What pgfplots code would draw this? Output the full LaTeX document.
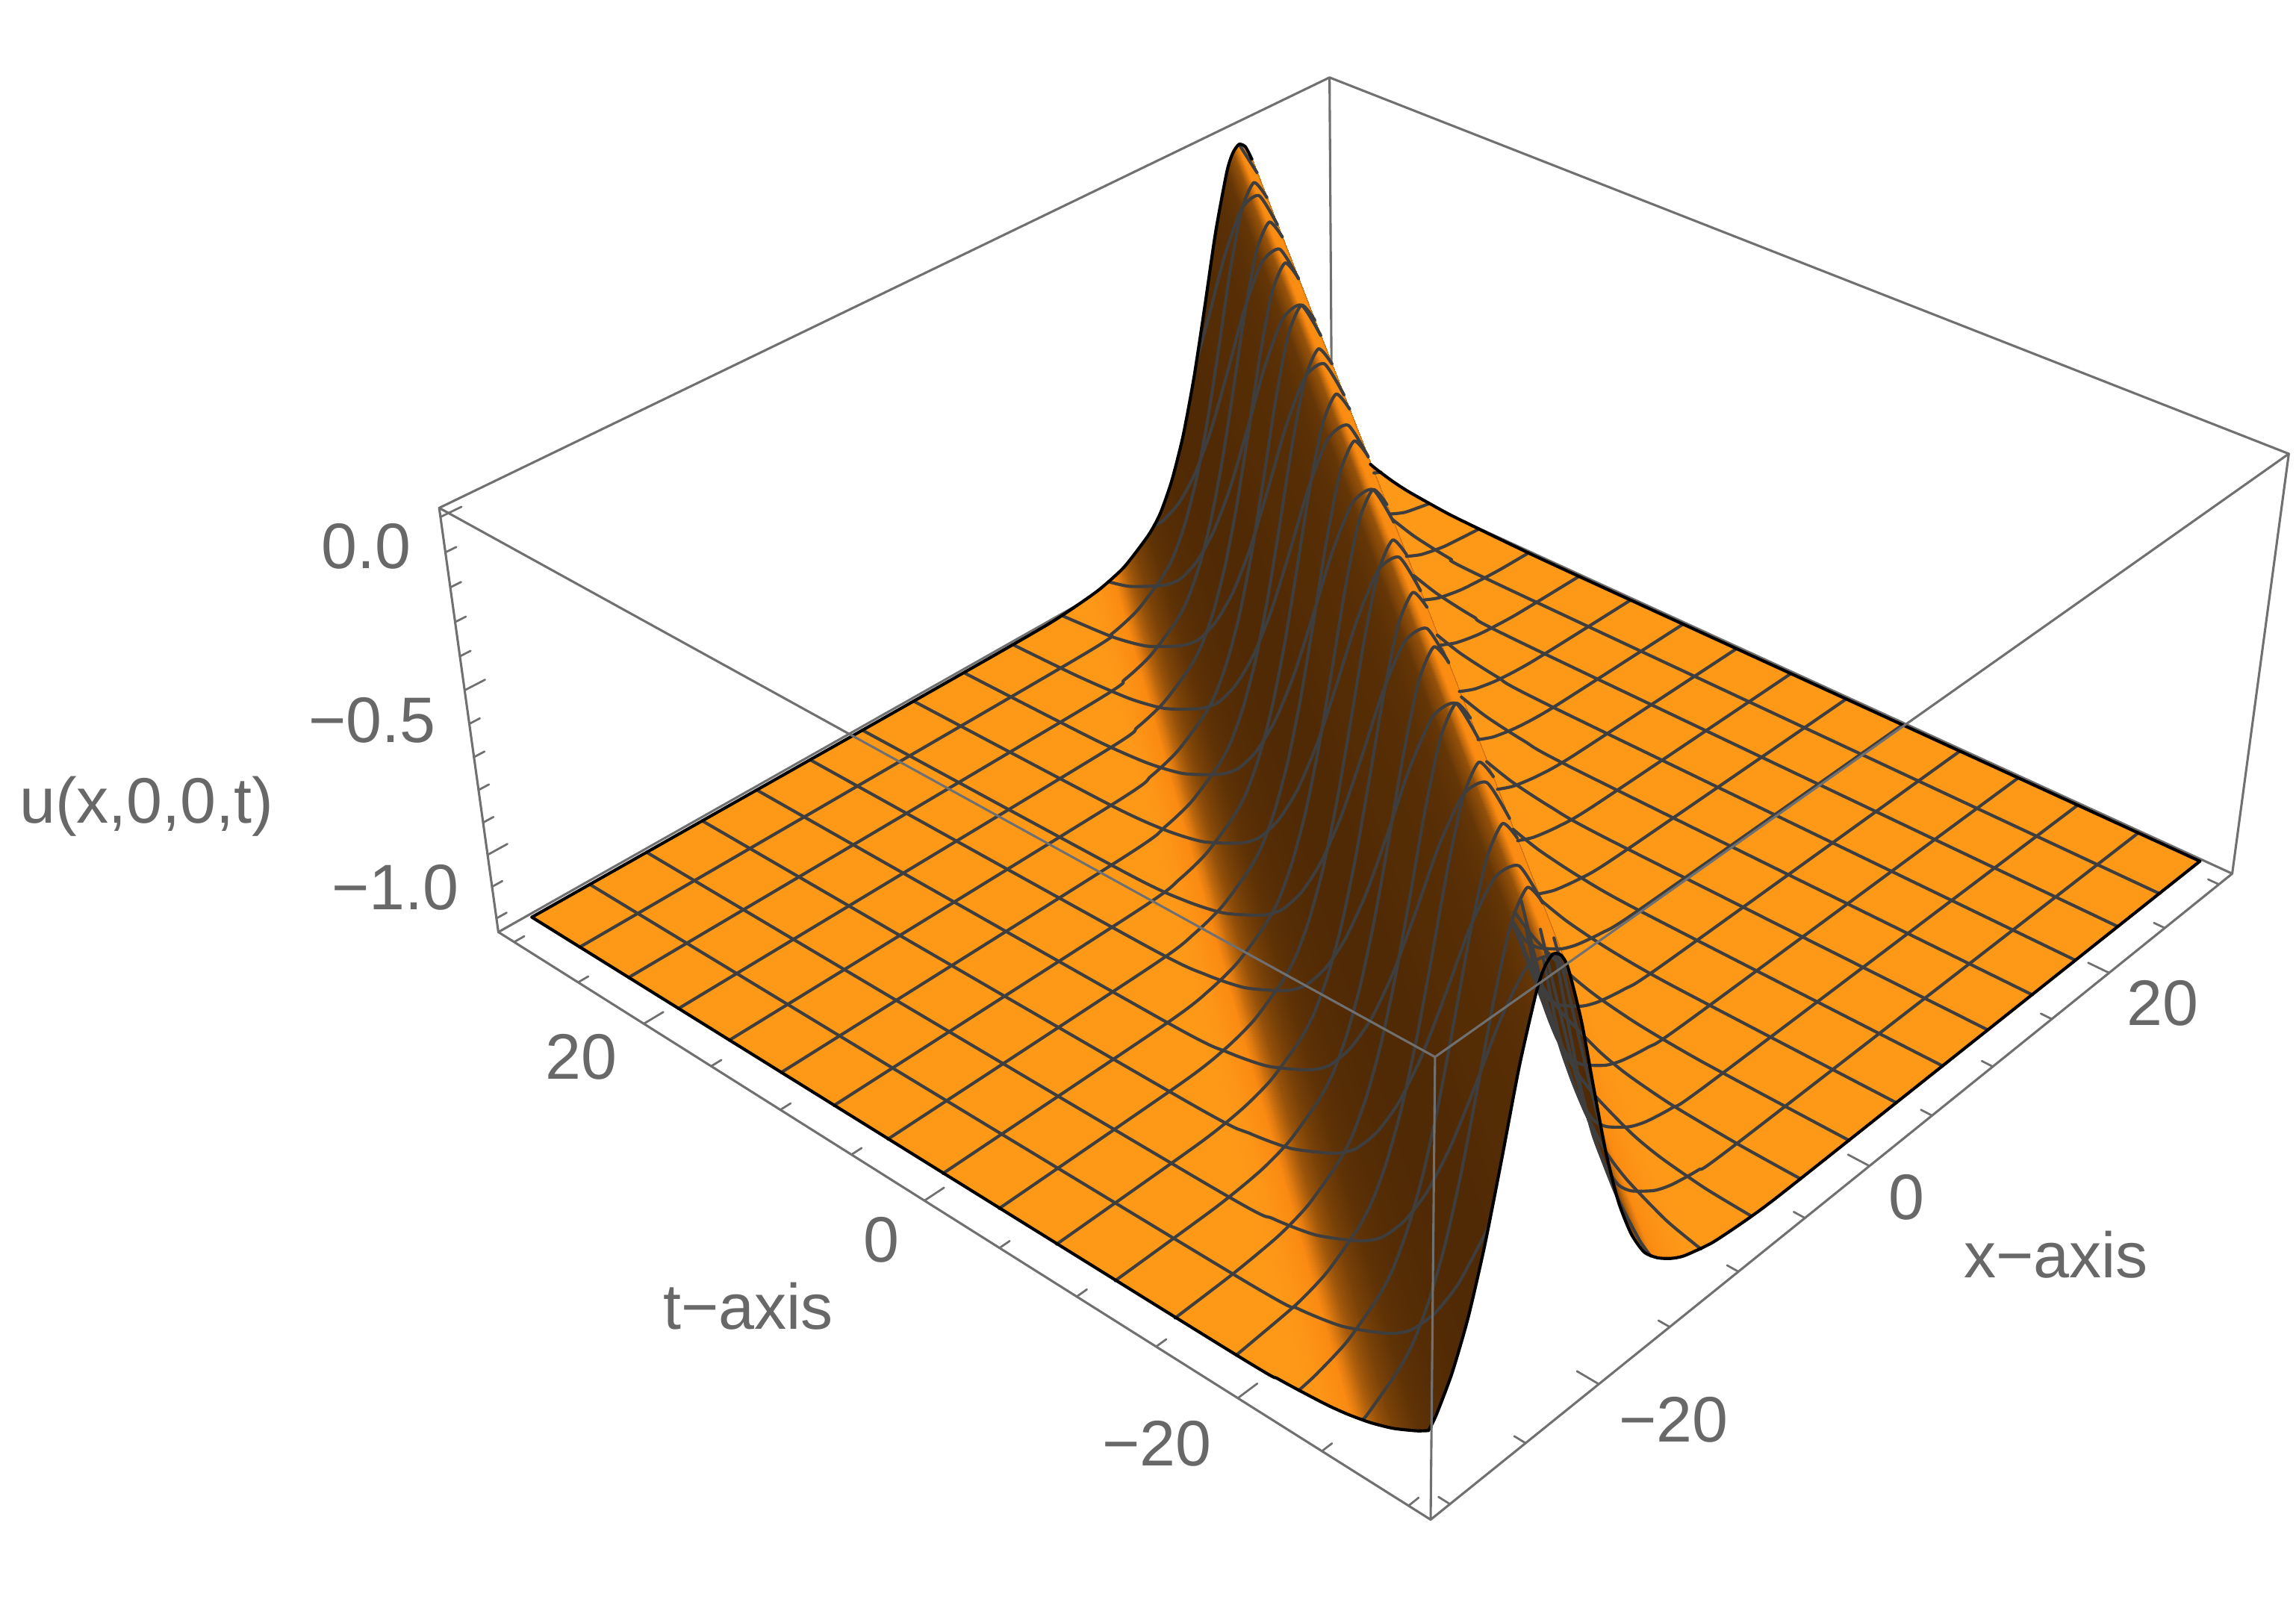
\documentclass[border=0pt]{standalone}
\usepackage{fontspec}
\setmainfont{Liberation Sans}
\usepackage{pgfplots}
\pgfplotsset{compat=1.18}
\newcommand\XX{(0.5+\thisrow{x}/62.5)}
\newcommand\YY{(0.5+\thisrow{t}/62.5)}
\newcommand\ZZ{((\thisrow{u}+1.2437)/1.269)}
\newcommand\WW{(1+0.2097*\XX+0.1879*\YY-0.075*\ZZ)}
\newcommand\SX{((977+867.1*\XX-572.7*\YY-70.5*\ZZ)/\WW)}
\newcommand\SY{(1100-(1038-316.1*\XX-281.7*\YY-370.15*\ZZ)/\WW)}
\definecolor{boxc}{RGB}{112,112,112}
\definecolor{meshc}{RGB}{62,62,62}
\definecolor{txtc}{RGB}{104,104,104}
\begin{document}
\begin{tikzpicture}
\begin{axis}[
  width=15.68cm,height=11cm,scale only axis,
  xmin=0,xmax=1568,ymin=0,ymax=1100,zmin=-1,zmax=1,
  view={0}{90},hide axis,clip=false,
  unbounded coords=jump,
  colormap={sur}{rgb255=(80,42,5) rgb255=(150,82,10) rgb255=(250,138,18) rgb255=(254,153,24)},
  point meta min=0,point meta max=1,
  every axis plot/.append style={line cap=round,line join=round},
]
\path (axis cs:0,0,0) rectangle (axis cs:1568,1100,0);
% back edges of the box
\addplot3[boxc,line width=0.45pt,no marks] table[x expr=\SX,y expr=\SY,z expr=0] {
x t u
-31.25 31.25 0.0254
31.25 31.25 0.0254
nan nan nan
31.25 -31.25 0.0254
31.25 31.25 0.0254
31.25 31.25 -1.2437
-31.25 31.25 -1.2437
nan nan nan
31.25 31.25 -1.2437
31.25 -31.25 -1.2437
};
% surface: scanlines run along the ridge, from behind it to in front of it
\addplot3[surf,shader=interp,z buffer=none,mesh/rows=39,mesh/cols=2,point meta=explicit]
 table[x expr=\SX,y expr=\SY,z expr=0,meta=c] {
x t u c
30 -30 -1.2 1
30 -30 -1.2 1

7.5 -30 -1.2 1
30 0 -1.2 1

-8.5 -30 -1.19 1
30 21.33 -1.19 1

-10.5 -30 -1.178 1
30 24 -1.178 1

-11.5 -30 -1.167 1
30 25.33 -1.167 1

-12.5 -30 -1.15 0.97
30 26.67 -1.15 0.97

-13.5 -30 -1.125 0.88
30 28 -1.125 0.88

-14.5 -30 -1.09 0.75
30 29.33 -1.09 0.75

-15 -30 -1.068 0.65
30 30 -1.068 0.65

-15.5 -30 -1.04 0.5
29.5 30 -1.04 0.5

-16.5 -30 -0.953 0.2
28.5 30 -0.953 0.2

-17.5 -30 -0.828 0.05
27.5 30 -0.828 0.05

-18.5 -30 -0.658 0
26.5 30 -0.658 0

-19.5 -30 -0.451 0
25.5 30 -0.451 0

-20.5 -30 -0.235 0
24.5 30 -0.235 0

-21 -30 -0.141 0.1
24 30 -0.141 0.1

-21.5 -30 -0.065 0.5
23.5 30 -0.065 0.5

-22 -30 -0.017 0.75
23 30 -0.017 0.75

-22.5 -30 0 0.72
22.5 30 0 0.72

-23 -30 -0.017 0.33
22 30 -0.017 0.33

-23.5 -30 -0.065 0.1
21.5 30 -0.065 0.1

-24 -30 -0.141 0.05
21 30 -0.141 0.05

-24.5 -30 -0.235 0.03
20.5 30 -0.235 0.03

-25.5 -30 -0.451 0.02
19.5 30 -0.451 0.02

-26.5 -30 -0.658 0
18.5 30 -0.658 0

-27.5 -30 -0.828 0
17.5 30 -0.828 0

-28.5 -30 -0.953 0.01
16.5 30 -0.953 0.01

-29.5 -30 -1.04 0.03
15.5 30 -1.04 0.03

-30 -30 -1.068 0.05
15 30 -1.068 0.05

-30 -29.33 -1.09 0.08
14.5 30 -1.09 0.08

-30 -28 -1.125 0.2
13.5 30 -1.125 0.2

-30 -26.67 -1.15 0.42
12.5 30 -1.15 0.42

-30 -26 -1.16 0.58
12 30 -1.16 0.58

-30 -25.33 -1.167 0.7
11.5 30 -1.167 0.7

-30 -24 -1.178 0.9
10.5 30 -1.178 0.9

-30 -22.67 -1.186 1
9.5 30 -1.186 1

-30 -21.33 -1.19 1
8.5 30 -1.19 1

-30 0 -1.2 1
-7.5 30 -1.2 1

-30 30 -1.2 1
-30 30 -1.2 1
};
% mesh lines at constant t; only what is not hidden by the ridge
\addplot3[meshc,line width=0.6pt,no marks,smooth,tension=0.4] table[x expr=\SX,y expr=\SY,z expr=0] {
x t u
20.69 26.25 -0.065
19.69 26.25 0
18.69 26.25 -0.065
17.69 26.25 -0.235
16.69 26.25 -0.451
15.69 26.25 -0.658
14.69 26.25 -0.828
13.69 26.25 -0.953
12.69 26.25 -1.04
11.69 26.25 -1.09
9.69 26.25 -1.15
7.69 26.25 -1.178
4.69 26.25 -1.193
-30 26.25 -1.2
nan nan nan
29.39 26.25 -1.143
30 26.25 -1.154
nan nan nan
17.88 22.5 -0.065
16.88 22.5 0
15.88 22.5 -0.065
14.88 22.5 -0.235
13.88 22.5 -0.451
12.88 22.5 -0.658
11.88 22.5 -0.828
10.88 22.5 -0.953
9.88 22.5 -1.04
8.88 22.5 -1.09
6.88 22.5 -1.15
4.88 22.5 -1.178
1.88 22.5 -1.193
-30 22.5 -1.2
nan nan nan
26.58 22.5 -1.143
27.88 22.5 -1.167
30 22.5 -1.186
nan nan nan
15.06 18.75 -0.065
14.06 18.75 0
13.06 18.75 -0.065
12.06 18.75 -0.235
11.06 18.75 -0.451
10.06 18.75 -0.658
9.06 18.75 -0.828
8.06 18.75 -0.953
7.06 18.75 -1.04
6.06 18.75 -1.09
4.06 18.75 -1.15
2.06 18.75 -1.178
-0.94 18.75 -1.193
-30 18.75 -1.2
nan nan nan
23.76 18.75 -1.143
25.06 18.75 -1.167
27.06 18.75 -1.186
30 18.75 -1.197
nan nan nan
12.25 15 -0.065
11.25 15 0
10.25 15 -0.065
9.25 15 -0.235
8.25 15 -0.451
7.25 15 -0.658
6.25 15 -0.828
5.25 15 -0.953
4.25 15 -1.04
3.25 15 -1.09
1.25 15 -1.15
-0.75 15 -1.178
-3.75 15 -1.193
-30 15 -1.2
nan nan nan
20.95 15 -1.143
22.25 15 -1.167
24.25 15 -1.186
27.25 15 -1.197
30 15 -1.2
nan nan nan
9.44 11.25 -0.065
8.44 11.25 0
7.44 11.25 -0.065
6.44 11.25 -0.235
5.44 11.25 -0.451
4.44 11.25 -0.658
3.44 11.25 -0.828
2.44 11.25 -0.953
1.44 11.25 -1.04
0.44 11.25 -1.09
-1.56 11.25 -1.15
-3.56 11.25 -1.178
-6.56 11.25 -1.193
-30 11.25 -1.2
nan nan nan
18.14 11.25 -1.143
19.44 11.25 -1.167
21.44 11.25 -1.186
24.44 11.25 -1.197
30 11.25 -1.2
nan nan nan
6.63 7.5 -0.065
5.63 7.5 0
4.63 7.5 -0.065
3.63 7.5 -0.235
2.63 7.5 -0.451
1.63 7.5 -0.658
0.63 7.5 -0.828
-0.37 7.5 -0.953
-1.37 7.5 -1.04
-2.37 7.5 -1.09
-4.37 7.5 -1.15
-6.37 7.5 -1.178
-9.37 7.5 -1.193
-30 7.5 -1.2
nan nan nan
15.33 7.5 -1.143
16.63 7.5 -1.167
18.63 7.5 -1.186
21.63 7.5 -1.197
30 7.5 -1.2
nan nan nan
3.81 3.75 -0.065
2.81 3.75 0
1.81 3.75 -0.065
0.81 3.75 -0.235
-0.19 3.75 -0.451
-1.19 3.75 -0.658
-2.19 3.75 -0.828
-3.19 3.75 -0.953
-4.19 3.75 -1.04
-5.19 3.75 -1.09
-7.19 3.75 -1.15
-9.19 3.75 -1.178
-12.19 3.75 -1.193
-30 3.75 -1.2
nan nan nan
12.51 3.75 -1.143
13.81 3.75 -1.167
15.81 3.75 -1.186
18.81 3.75 -1.197
30 3.75 -1.2
nan nan nan
1 0 -0.065
0 0 0
-1 0 -0.065
-2 0 -0.235
-3 0 -0.451
-4 0 -0.658
-5 0 -0.828
-6 0 -0.953
-7 0 -1.04
-8 0 -1.09
-10 0 -1.15
-12 0 -1.178
-15 0 -1.193
-30 0 -1.2
nan nan nan
9.7 0 -1.143
11 0 -1.167
13 0 -1.186
16 0 -1.197
30 0 -1.2
nan nan nan
-1.81 -3.75 -0.065
-2.81 -3.75 0
-3.81 -3.75 -0.065
-4.81 -3.75 -0.235
-5.81 -3.75 -0.451
-6.81 -3.75 -0.658
-7.81 -3.75 -0.828
-8.81 -3.75 -0.953
-9.81 -3.75 -1.04
-10.81 -3.75 -1.09
-12.81 -3.75 -1.15
-14.81 -3.75 -1.178
-17.81 -3.75 -1.193
-30 -3.75 -1.2
nan nan nan
6.89 -3.75 -1.143
8.19 -3.75 -1.167
10.19 -3.75 -1.186
13.19 -3.75 -1.197
30 -3.75 -1.2
nan nan nan
-4.63 -7.5 -0.065
-5.63 -7.5 0
-6.63 -7.5 -0.065
-7.63 -7.5 -0.235
-8.63 -7.5 -0.451
-9.63 -7.5 -0.658
-10.63 -7.5 -0.828
-11.63 -7.5 -0.953
-12.63 -7.5 -1.04
-13.63 -7.5 -1.09
-15.63 -7.5 -1.15
-17.63 -7.5 -1.178
-20.63 -7.5 -1.193
-30 -7.5 -1.2
nan nan nan
4.07 -7.5 -1.143
5.37 -7.5 -1.167
7.37 -7.5 -1.186
10.37 -7.5 -1.197
30 -7.5 -1.2
nan nan nan
-7.44 -11.25 -0.065
-8.44 -11.25 0
-9.44 -11.25 -0.065
-10.44 -11.25 -0.235
-11.44 -11.25 -0.451
-12.44 -11.25 -0.658
-13.44 -11.25 -0.828
-14.44 -11.25 -0.953
-15.44 -11.25 -1.04
-16.44 -11.25 -1.09
-18.44 -11.25 -1.15
-20.44 -11.25 -1.178
-23.44 -11.25 -1.193
-30 -11.25 -1.2
nan nan nan
-2.44 -11.25 -0.953
-1.44 -11.25 -1.04
-0.44 -11.25 -1.09
1.26 -11.25 -1.143
2.56 -11.25 -1.167
4.56 -11.25 -1.186
7.56 -11.25 -1.197
30 -11.25 -1.2
nan nan nan
-10.25 -15 -0.065
-11.25 -15 0
-12.25 -15 -0.065
-13.25 -15 -0.235
-14.25 -15 -0.451
-15.25 -15 -0.658
-16.25 -15 -0.828
-17.25 -15 -0.953
-18.25 -15 -1.04
-19.25 -15 -1.09
-21.25 -15 -1.15
-23.25 -15 -1.178
-26.25 -15 -1.193
-30 -15 -1.2
nan nan nan
-6.75 -15 -0.75
-6.25 -15 -0.828
-5.25 -15 -0.953
-4.25 -15 -1.04
-3.25 -15 -1.09
-1.55 -15 -1.143
-0.25 -15 -1.167
1.75 -15 -1.186
4.75 -15 -1.197
30 -15 -1.2
nan nan nan
-13.06 -18.75 -0.065
-14.06 -18.75 0
-15.06 -18.75 -0.065
-16.06 -18.75 -0.235
-17.06 -18.75 -0.451
-18.06 -18.75 -0.658
-19.06 -18.75 -0.828
-20.06 -18.75 -0.953
-21.06 -18.75 -1.04
-22.06 -18.75 -1.09
-24.06 -18.75 -1.15
-26.06 -18.75 -1.178
-29.06 -18.75 -1.193
-30 -18.75 -1.197
nan nan nan
-10.56 -18.75 -0.555
-10.06 -18.75 -0.658
-9.06 -18.75 -0.828
-8.06 -18.75 -0.953
-7.06 -18.75 -1.04
-6.06 -18.75 -1.09
-4.36 -18.75 -1.143
-3.06 -18.75 -1.167
-1.06 -18.75 -1.186
1.94 -18.75 -1.197
30 -18.75 -1.2
nan nan nan
-15.88 -22.5 -0.065
-16.88 -22.5 0
-17.88 -22.5 -0.065
-18.88 -22.5 -0.235
-19.88 -22.5 -0.451
-20.88 -22.5 -0.658
-21.88 -22.5 -0.828
-22.88 -22.5 -0.953
-23.88 -22.5 -1.04
-24.88 -22.5 -1.09
-26.88 -22.5 -1.15
-28.88 -22.5 -1.178
-30 -22.5 -1.186
nan nan nan
-13.88 -22.5 -0.451
-12.88 -22.5 -0.658
-11.88 -22.5 -0.828
-10.88 -22.5 -0.953
-9.88 -22.5 -1.04
-8.88 -22.5 -1.09
-7.18 -22.5 -1.143
-5.88 -22.5 -1.167
-3.88 -22.5 -1.186
-0.88 -22.5 -1.197
30 -22.5 -1.2
nan nan nan
-18.69 -26.25 -0.065
-19.69 -26.25 0
-20.69 -26.25 -0.065
-21.69 -26.25 -0.235
-22.69 -26.25 -0.451
-23.69 -26.25 -0.658
-24.69 -26.25 -0.828
-25.69 -26.25 -0.953
-26.69 -26.25 -1.04
-27.69 -26.25 -1.09
-29.69 -26.25 -1.15
-30 -26.25 -1.154
nan nan nan
-17.69 -26.25 -0.235
-16.69 -26.25 -0.451
-15.69 -26.25 -0.658
-14.69 -26.25 -0.828
-13.69 -26.25 -0.953
-12.69 -26.25 -1.04
-11.69 -26.25 -1.09
-9.99 -26.25 -1.143
-8.69 -26.25 -1.167
-6.69 -26.25 -1.186
-3.69 -26.25 -1.197
30 -26.25 -1.2
};
% mesh lines at constant x
\addplot3[meshc,line width=0.6pt,no marks,smooth,tension=0.4] table[x expr=\SX,y expr=\SY,z expr=0] {
x t u
26.25 22.07 -1.143
26.25 20.33 -1.167
26.25 17.67 -1.186
26.25 13.67 -1.197
26.25 -30 -1.2
nan nan nan
22.5 28.67 -0.065
22.5 30 0
nan nan nan
22.5 17.07 -1.143
22.5 15.33 -1.167
22.5 12.67 -1.186
22.5 8.67 -1.197
22.5 -30 -1.2
nan nan nan
18.75 23.67 -0.065
18.75 25 0
18.75 26.33 -0.065
18.75 27.67 -0.235
18.75 29 -0.451
18.75 30 -0.61
nan nan nan
18.75 12.07 -1.143
18.75 10.33 -1.167
18.75 7.67 -1.186
18.75 3.67 -1.197
18.75 -30 -1.2
nan nan nan
15 18.67 -0.065
15 20 0
15 21.33 -0.065
15 22.67 -0.235
15 24 -0.451
15 25.33 -0.658
15 26.67 -0.828
15 28 -0.953
15 29.33 -1.04
15 30 -1.068
nan nan nan
15 7.07 -1.143
15 5.33 -1.167
15 2.67 -1.186
15 -1.33 -1.197
15 -30 -1.2
nan nan nan
11.25 13.67 -0.065
11.25 15 0
11.25 16.33 -0.065
11.25 17.67 -0.235
11.25 19 -0.451
11.25 20.33 -0.658
11.25 21.67 -0.828
11.25 23 -0.953
11.25 24.33 -1.04
11.25 25.67 -1.09
11.25 28.33 -1.15
11.25 30 -1.17
nan nan nan
11.25 2.07 -1.143
11.25 0.33 -1.167
11.25 -2.33 -1.186
11.25 -6.33 -1.197
11.25 -30 -1.2
nan nan nan
7.5 8.67 -0.065
7.5 10 0
7.5 11.33 -0.065
7.5 12.67 -0.235
7.5 14 -0.451
7.5 15.33 -0.658
7.5 16.67 -0.828
7.5 18 -0.953
7.5 19.33 -1.04
7.5 20.67 -1.09
7.5 23.33 -1.15
7.5 26 -1.178
7.5 30 -1.193
nan nan nan
7.5 -2.93 -1.143
7.5 -4.67 -1.167
7.5 -7.33 -1.186
7.5 -11.33 -1.197
7.5 -30 -1.2
nan nan nan
3.75 3.67 -0.065
3.75 5 0
3.75 6.33 -0.065
3.75 7.67 -0.235
3.75 9 -0.451
3.75 10.33 -0.658
3.75 11.67 -0.828
3.75 13 -0.953
3.75 14.33 -1.04
3.75 15.67 -1.09
3.75 18.33 -1.15
3.75 21 -1.178
3.75 25 -1.193
3.75 30 -1.2
nan nan nan
3.75 -7.93 -1.143
3.75 -9.67 -1.167
3.75 -12.33 -1.186
3.75 -16.33 -1.197
3.75 -30 -1.2
nan nan nan
0 -1.33 -0.065
0 0 0
0 1.33 -0.065
0 2.67 -0.235
0 4 -0.451
0 5.33 -0.658
0 6.67 -0.828
0 8 -0.953
0 9.33 -1.04
0 10.67 -1.09
0 13.33 -1.15
0 16 -1.178
0 20 -1.193
0 30 -1.2
nan nan nan
0 -9.33 -1.04
0 -10.67 -1.09
0 -12.93 -1.143
0 -14.67 -1.167
0 -17.33 -1.186
0 -21.33 -1.197
0 -30 -1.2
nan nan nan
-3.75 -6.33 -0.065
-3.75 -5 0
-3.75 -3.67 -0.065
-3.75 -2.33 -0.235
-3.75 -1 -0.451
-3.75 0.33 -0.658
-3.75 1.67 -0.828
-3.75 3 -0.953
-3.75 4.33 -1.04
-3.75 5.67 -1.09
-3.75 8.33 -1.15
-3.75 11 -1.178
-3.75 15 -1.193
-3.75 30 -1.2
nan nan nan
-3.75 -12.33 -0.895
-3.75 -13 -0.953
-3.75 -14.33 -1.04
-3.75 -15.67 -1.09
-3.75 -17.93 -1.143
-3.75 -19.67 -1.167
-3.75 -22.33 -1.186
-3.75 -26.33 -1.197
-3.75 -30 -1.2
nan nan nan
-7.5 -11.33 -0.065
-7.5 -10 0
-7.5 -8.67 -0.065
-7.5 -7.33 -0.235
-7.5 -6 -0.451
-7.5 -4.67 -0.658
-7.5 -3.33 -0.828
-7.5 -2 -0.953
-7.5 -0.67 -1.04
-7.5 0.67 -1.09
-7.5 3.33 -1.15
-7.5 6 -1.178
-7.5 10 -1.193
-7.5 30 -1.2
nan nan nan
-7.5 -16 -0.75
-7.5 -16.67 -0.828
-7.5 -18 -0.953
-7.5 -19.33 -1.04
-7.5 -20.67 -1.09
-7.5 -22.93 -1.143
-7.5 -24.67 -1.167
-7.5 -27.33 -1.186
-7.5 -30 -1.193
nan nan nan
-11.25 -16.33 -0.065
-11.25 -15 0
-11.25 -13.67 -0.065
-11.25 -12.33 -0.235
-11.25 -11 -0.451
-11.25 -9.67 -0.658
-11.25 -8.33 -0.828
-11.25 -7 -0.953
-11.25 -5.67 -1.04
-11.25 -4.33 -1.09
-11.25 -1.67 -1.15
-11.25 1 -1.178
-11.25 5 -1.193
-11.25 30 -1.2
nan nan nan
-11.25 -19 -0.451
-11.25 -20.33 -0.658
-11.25 -21.67 -0.828
-11.25 -23 -0.953
-11.25 -24.33 -1.04
-11.25 -25.67 -1.09
-11.25 -27.93 -1.143
-11.25 -29.67 -1.167
-11.25 -30 -1.17
nan nan nan
-15 -21.33 -0.065
-15 -20 0
-15 -18.67 -0.065
-15 -17.33 -0.235
-15 -16 -0.451
-15 -14.67 -0.658
-15 -13.33 -0.828
-15 -12 -0.953
-15 -10.67 -1.04
-15 -9.33 -1.09
-15 -6.67 -1.15
-15 -4 -1.178
-15 0 -1.193
-15 30 -1.2
nan nan nan
-15 -23.2 -0.32
-15 -24 -0.451
-15 -25.33 -0.658
-15 -26.67 -0.828
-15 -28 -0.953
-15 -29.33 -1.04
-15 -30 -1.068
nan nan nan
-18.75 -26.33 -0.065
-18.75 -25 0
-18.75 -23.67 -0.065
-18.75 -22.33 -0.235
-18.75 -21 -0.451
-18.75 -19.67 -0.658
-18.75 -18.33 -0.828
-18.75 -17 -0.953
-18.75 -15.67 -1.04
-18.75 -14.33 -1.09
-18.75 -11.67 -1.15
-18.75 -9 -1.178
-18.75 -5 -1.193
-18.75 30 -1.2
nan nan nan
-18.75 -27 -0.141
-18.75 -27.67 -0.235
-18.75 -29 -0.451
-18.75 -30 -0.61
nan nan nan
-22.5 -30 0
-22.5 -28.67 -0.065
-22.5 -27.33 -0.235
-22.5 -26 -0.451
-22.5 -24.67 -0.658
-22.5 -23.33 -0.828
-22.5 -22 -0.953
-22.5 -20.67 -1.04
-22.5 -19.33 -1.09
-22.5 -16.67 -1.15
-22.5 -14 -1.178
-22.5 -10 -1.193
-22.5 30 -1.2
nan nan nan
-26.25 -30 -0.61
-26.25 -29.67 -0.658
-26.25 -28.33 -0.828
-26.25 -27 -0.953
-26.25 -25.67 -1.04
-26.25 -24.33 -1.09
-26.25 -21.67 -1.15
-26.25 -19 -1.178
-26.25 -15 -1.193
-26.25 30 -1.2
};
% black boundary of the surface
\addplot3[black,line width=0.6pt,no marks,smooth,tension=0.4] table[x expr=\SX,y expr=\SY,z expr=0] {
x t u
30 -30 -1.2
-2.5 -30 -1.199
-6.5 -30 -1.197
-8.5 -30 -1.19
-10.5 -30 -1.178
-12.5 -30 -1.15
-13.5 -30 -1.125
-14.5 -30 -1.09
-15.5 -30 -1.04
-16.5 -30 -0.953
-17.5 -30 -0.828
-18.5 -30 -0.658
-19.5 -30 -0.451
-20.5 -30 -0.235
-21.5 -30 -0.065
-22 -30 -0.017
-22.5 -30 0
-23 -30 -0.017
-23.5 -30 -0.065
-24.5 -30 -0.235
-25.5 -30 -0.451
-26.5 -30 -0.658
-27.5 -30 -0.828
-28.5 -30 -0.953
-29.5 -30 -1.04
-30 -30 -1.068
nan nan nan
-30 -30 -1.068
-30 -29.33 -1.09
-30 -28 -1.125
-30 -26.67 -1.15
-30 -25.33 -1.167
-30 -24 -1.178
-30 -21.33 -1.19
-30 -17.33 -1.197
-30 30 -1.2
nan nan nan
-30 30 -1.2
-7.5 30 -1.2
2.5 30 -1.199
6.5 30 -1.197
8.5 30 -1.19
10.5 30 -1.178
12.5 30 -1.15
14.5 30 -1.09
15.5 30 -1.04
16.5 30 -0.953
17.5 30 -0.828
18.5 30 -0.658
19.5 30 -0.451
20.5 30 -0.235
21.5 30 -0.065
22 30 -0.017
22.5 30 0
23 30 -0.017
23.5 30 -0.065
nan nan nan
30 -30 -1.2
30 10 -1.2
30 16 -1.198
30 20 -1.193
30 21.33 -1.19
30 24 -1.178
30 25.33 -1.167
30 26.67 -1.15
30 27.07 -1.143
};
% front edges of the box
\addplot3[boxc,line width=0.45pt,no marks] table[x expr=\SX,y expr=\SY,z expr=0] {
x t u
-31.25 31.25 0.0254
-31.25 -31.25 0.0254
31.25 -31.25 0.0254
31.25 -31.25 -1.2437
-31.25 -31.25 -1.2437
-31.25 31.25 -1.2437
-31.25 31.25 0.0254
nan nan nan
-31.25 -31.25 0.0254
-31.25 -31.25 -1.2437
};
% tick marks
\addplot3[boxc,line width=0.4pt,no marks] table[x expr=\SX,y expr=\SY,z expr=0] {
x t u
-31.25 -30 -1.2437
-30.6 -30 -1.2437
nan nan nan
-31.25 -25 -1.2437
-30.6 -25 -1.2437
nan nan nan
-31.25 -20 -1.2437
-30 -20 -1.2437
nan nan nan
-31.25 -15 -1.2437
-30.6 -15 -1.2437
nan nan nan
-31.25 -10 -1.2437
-30.6 -10 -1.2437
nan nan nan
-31.25 -5 -1.2437
-30.6 -5 -1.2437
nan nan nan
-31.25 0 -1.2437
-30 0 -1.2437
nan nan nan
-31.25 5 -1.2437
-30.6 5 -1.2437
nan nan nan
-31.25 10 -1.2437
-30.6 10 -1.2437
nan nan nan
-31.25 15 -1.2437
-30.6 15 -1.2437
nan nan nan
-31.25 20 -1.2437
-30 20 -1.2437
nan nan nan
-31.25 25 -1.2437
-30.6 25 -1.2437
nan nan nan
-31.25 30 -1.2437
-30.6 30 -1.2437
nan nan nan
-30 -31.25 -1.2437
-30 -30.6 -1.2437
nan nan nan
-25 -31.25 -1.2437
-25 -30.6 -1.2437
nan nan nan
-20 -31.25 -1.2437
-20 -30 -1.2437
nan nan nan
-15 -31.25 -1.2437
-15 -30.6 -1.2437
nan nan nan
-10 -31.25 -1.2437
-10 -30.6 -1.2437
nan nan nan
-5 -31.25 -1.2437
-5 -30.6 -1.2437
nan nan nan
0 -31.25 -1.2437
0 -30 -1.2437
nan nan nan
5 -31.25 -1.2437
5 -30.6 -1.2437
nan nan nan
10 -31.25 -1.2437
10 -30.6 -1.2437
nan nan nan
15 -31.25 -1.2437
15 -30.6 -1.2437
nan nan nan
20 -31.25 -1.2437
20 -30 -1.2437
nan nan nan
25 -31.25 -1.2437
25 -30.6 -1.2437
nan nan nan
30 -31.25 -1.2437
30 -30.6 -1.2437
nan nan nan
-31.25 31.25 -1.2
-30.6 31.25 -1.2
nan nan nan
-31.25 31.25 -1.1
-30.6 31.25 -1.1
nan nan nan
-31.25 31.25 -1
-30 31.25 -1
nan nan nan
-31.25 31.25 -0.9
-30.6 31.25 -0.9
nan nan nan
-31.25 31.25 -0.8
-30.6 31.25 -0.8
nan nan nan
-31.25 31.25 -0.7
-30.6 31.25 -0.7
nan nan nan
-31.25 31.25 -0.6
-30.6 31.25 -0.6
nan nan nan
-31.25 31.25 -0.5
-30 31.25 -0.5
nan nan nan
-31.25 31.25 -0.4
-30.6 31.25 -0.4
nan nan nan
-31.25 31.25 -0.3
-30.6 31.25 -0.3
nan nan nan
-31.25 31.25 -0.2
-30.6 31.25 -0.2
nan nan nan
-31.25 31.25 -0.1
-30.6 31.25 -0.1
nan nan nan
-31.25 31.25 0
-30 31.25 0
};
\tikzset{lab/.style={font=\fontsize{12.5}{15}\selectfont,text=txtc,inner sep=0pt,anchor=center}}
\node[lab] at (axis cs:250,727,0) {0.0};
\node[lab] at (axis cs:254,608,0) {−0.5};
\node[lab] at (axis cs:270,494,0) {−1.0};
\node[lab] at (axis cs:100,549,0) {u(x,0,0,t)};
\node[lab] at (axis cs:397,378,0) {20};
\node[lab] at (axis cs:602,253,0) {0};
\node[lab] at (axis cs:511,208,0) {t−axis};
\node[lab] at (axis cs:790,114,0) {−20};
\node[lab] at (axis cs:1477,415,0) {20};
\node[lab] at (axis cs:1302,282,0) {0};
\node[lab] at (axis cs:1404,243,0) {x−axis};
\node[lab] at (axis cs:1143,130,0) {−20};
\end{axis}
\end{tikzpicture}
\end{document}
